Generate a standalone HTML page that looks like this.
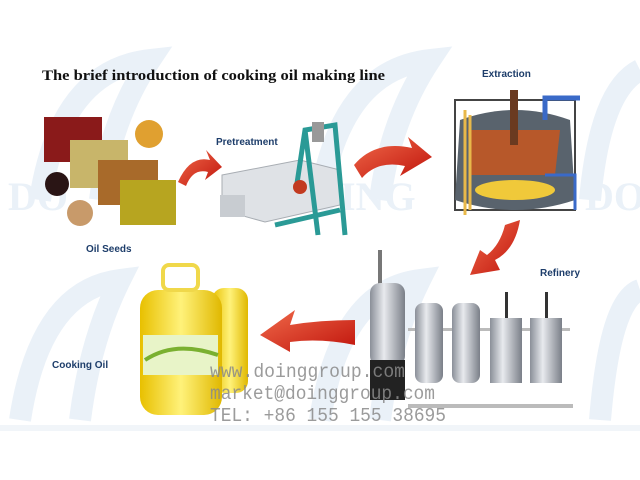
<!DOCTYPE html>
<html><head><style>
body{margin:0;background:#fff;}
svg{display:block}
</style></head><body>
<svg width="640" height="480" viewBox="0 0 640 480" xmlns="http://www.w3.org/2000/svg">
<defs>
<linearGradient id="red" x1="0" y1="0" x2="1" y2="1"><stop offset="0" stop-color="#f06a4a"/><stop offset="1" stop-color="#c0140c"/></linearGradient>
<linearGradient id="steel" x1="0" x2="1"><stop offset="0" stop-color="#8a8f98"/><stop offset="0.4" stop-color="#e8eaee"/><stop offset="1" stop-color="#7a7f88"/></linearGradient>
<linearGradient id="oil" x1="0" x2="1"><stop offset="0" stop-color="#e8c000"/><stop offset="0.5" stop-color="#fff27a"/><stop offset="1" stop-color="#e0b800"/></linearGradient>
</defs>
<rect width="640" height="480" fill="#fff"/>
<!-- watermark logos -->
<g fill="none" stroke="#eaf1f8" stroke-width="22">
<path d="M40 200 Q60 70 150 60 Q110 120 100 200"/>
<path d="M320 200 Q340 70 430 60 Q390 120 380 200"/>
<path d="M590 200 Q600 90 640 70"/>
<path d="M20 420 Q40 290 120 280 Q90 340 80 420"/>
<path d="M320 420 Q340 290 420 280 Q390 340 380 420"/>
<path d="M600 420 Q610 300 640 290"/>
</g>
<g fill="#eaf1f8" font-family="Liberation Serif,serif" font-size="40" font-weight="bold">
<text x="8" y="210">DO</text><text x="280" y="210">DOING</text><text x="585" y="210">DO</text>
</g>
<rect x="0" y="425" width="640" height="6" fill="#f1f5f9"/>
<!-- title -->
<text x="42" y="80" font-family="Liberation Serif,serif" font-weight="bold" font-size="15" fill="#111" textLength="343" lengthAdjust="spacingAndGlyphs">The brief introduction of cooking oil making line</text>
<g font-family="Liberation Sans,sans-serif" font-weight="bold" font-size="10" fill="#1d3d6a">
<text x="482" y="77">Extraction</text>
<text x="216" y="145">Pretreatment</text>
<text x="86" y="252">Oil Seeds</text>
<text x="540" y="276">Refinery</text>
<text x="52" y="368">Cooking Oil</text>
</g>
<!-- seeds -->
<rect x="44" y="117" width="58" height="45" fill="#8a1a1a"/>
<rect x="70" y="140" width="58" height="48" fill="#c8b56a"/>
<rect x="98" y="160" width="60" height="45" fill="#a86a2a"/>
<rect x="120" y="180" width="56" height="45" fill="#b7a520"/>
<circle cx="149" cy="134" r="14" fill="#e0a030"/>
<circle cx="57" cy="184" r="12" fill="#2a1515"/>
<circle cx="80" cy="213" r="13" fill="#c89a6a"/>
<!-- pretreatment -->
<polygon points="222,175 300,160 340,170 340,205 265,222 222,210" fill="#dfe2e6" stroke="#a8adb3"/>
<rect x="220" y="195" width="25" height="22" fill="#c8ccd1"/>
<path d="M296 190 L305 130 L335 125 L345 235 M305 130 L318 235 M275 225 L340 210" stroke="#2a9a96" stroke-width="5" fill="none"/>
<rect x="312" y="122" width="12" height="20" fill="#999"/>
<circle cx="300" cy="187" r="7" fill="#c23a20"/>
<!-- arrows -->
<path d="M178 182 Q190 155 210 160 L206 150 L222 167 L205 180 L208 172 Q193 168 186 186 Z" fill="url(#red)"/>
<path d="M354 165 Q375 140 412 148 L408 137 L432 157 L400 176 L405 166 Q378 160 362 178 Z" fill="url(#red)"/>
<path d="M520 220 Q515 250 495 260 L500 270 L470 275 L480 250 L487 255 Q500 245 505 225 Z" fill="url(#red)"/>
<path d="M355 320 Q320 320 290 325 L295 310 L260 335 L290 352 L290 342 Q320 338 355 345 Z" fill="url(#red)"/>
<!-- extraction -->
<rect x="455" y="100" width="120" height="110" fill="none" stroke="#444" stroke-width="2"/>
<path d="M460 120 Q515 100 570 120 L575 200 Q515 220 455 200 Z" fill="#59636d"/>
<path d="M468 130 L560 130 L555 175 L470 175 Z" fill="#b7582a"/>
<ellipse cx="515" cy="190" rx="40" ry="10" fill="#f0c93a"/>
<rect x="510" y="90" width="8" height="55" fill="#6a3a20"/>
<path d="M545 120 L545 98 L580 98" stroke="#3a6ac8" stroke-width="5" fill="none"/>
<path d="M545 175 L575 175 L575 210" stroke="#3a6ac8" stroke-width="3" fill="none"/>
<path d="M465 110 L465 215 M470 115 L470 210" stroke="#e8b84a" stroke-width="3" fill="none"/>
<!-- refinery -->
<rect x="378" y="250" width="4" height="35" fill="#777"/>
<rect x="370" y="283" width="35" height="83" rx="10" fill="url(#steel)"/>
<rect x="370" y="360" width="35" height="40" fill="#222"/>
<rect x="408" y="328" width="162" height="3" fill="#bbb"/>
<rect x="408" y="404" width="165" height="4" fill="#bbb"/>
<rect x="415" y="303" width="28" height="80" rx="8" fill="url(#steel)"/>
<rect x="452" y="303" width="28" height="80" rx="8" fill="url(#steel)"/>
<rect x="490" y="318" width="32" height="65" fill="url(#steel)"/>
<rect x="530" y="318" width="32" height="65" fill="url(#steel)"/>
<rect x="505" y="292" width="3" height="26" fill="#333"/>
<rect x="545" y="292" width="3" height="26" fill="#333"/>
<!-- bottles -->
<rect x="212" y="288" width="36" height="105" rx="12" fill="url(#oil)"/>
<rect x="140" y="290" width="82" height="125" rx="18" fill="url(#oil)"/>
<rect x="163" y="265" width="35" height="25" rx="6" fill="none" stroke="#f0d84a" stroke-width="4"/>
<rect x="143" y="335" width="75" height="40" fill="#e8f4c8"/>
<path d="M145 360 Q175 340 218 355" stroke="#7ab030" stroke-width="4" fill="none"/>
<!-- watermark text -->
<g font-family="Liberation Mono,monospace" font-size="19" fill="#8a8a8a" opacity="0.85">
<text x="210" y="377" textLength="195" lengthAdjust="spacingAndGlyphs">www.doinggroup.com</text>
<text x="210" y="399" textLength="225" lengthAdjust="spacingAndGlyphs">market@doinggroup.com</text>
<text x="210" y="421" textLength="236" lengthAdjust="spacingAndGlyphs">TEL: +86 155 155 38695</text>
</g>
</svg>
</body></html>
